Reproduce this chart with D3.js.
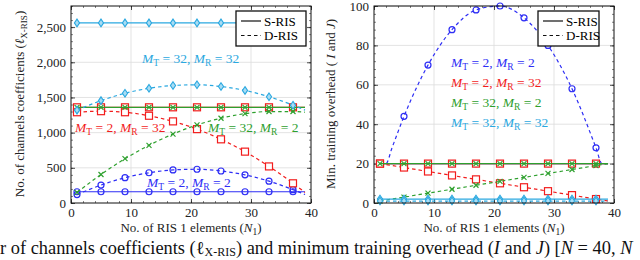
<!DOCTYPE html>
<html>
<head>
<meta charset="utf-8">
<script src="https://cdn.jsdelivr.net/npm/d3@7"></script>
<style>
  body { margin: 0; background: #fff; }
  svg { display: block; font-family: "Liberation Serif", "DejaVu Serif", serif; }
</style>
</head>
<body>
<svg id="fig" width="640" height="260"></svg>
<script>
// N1 samples (markers on every one except the last)
const n1 = [1, 5, 9, 13, 17, 21, 25, 29, 33, 37, 39];
const n1Marks = [1, 5, 9, 13, 17, 21, 25, 29, 33, 37];
const n1Ticks = [0, 10, 20, 30, 40];

// left panel: number of channel coefficients
const coefTicks = [0, 500, 1000, 1500, 2000, 2500];
const coefBlueS = 160, coefRedS = 1360, coefGreenS = 1360, coefCyanS = 2560;
const coefBlueD = [120, 255, 360, 430, 470, 480, 455, 400, 310, 190, 120];
const coefRedD = [1290, 1305, 1290, 1240, 1160, 1050, 905, 730, 520, 280, 150];
const coefGreenD = [150, 405, 630, 820, 980, 1110, 1205, 1270, 1300, 1300, 1290];
const coefCyanD = [1320, 1455, 1560, 1630, 1670, 1680, 1655, 1600, 1510, 1390, 1320];

// right panel: minimum training overhead
const trainTicks = [0, 20, 40, 60, 80, 100];
const trainBlueS = 20, trainRedS = 20, trainGreenS = 20, trainCyanS = 2;
const n1Blue = [1, 2, 3, 5, 9, 13, 17, 21, 25, 29, 33, 37, 38, 39];
const trainBlueD = [20, 20, 28, 44, 70, 88, 98, 100, 94, 80, 58, 28, 20, 20];
const trainRedD = [20, 18, 16, 14, 12, 10, 8, 6, 4, 2, 1];
const trainGreenD = [1, 3, 5, 7, 9, 11, 13, 15, 17, 19, 20];
const trainCyanD = [1, 1, 1, 1, 1, 1, 1, 1, 1, 1, 1];

const legendLabels = ["S-RIS", "D-RIS"];
const caption = "r of channels coefficients (ℓ";

const blue = "#2e2ef5", red = "#f21d1d", green = "#2ea02e", cyan = "#2aa8e0";

const svg = d3.select("#fig");
const plotTop = 6, plotBottom = 203;

const zip = (xs, ys) => xs.map((x, i) => ({ x, y: ys[i] }));
const flat = (xs, v) => xs.map(x => ({ x, y: v }));

function mathLabel(g, x, y, color, mt, mr) {
  const t = g.append("text").attr("x", x).attr("y", y)
    .attr("fill", color).attr("font-size", 13.5);
  t.append("tspan").attr("font-style", "italic").text("M");
  t.append("tspan").attr("font-size", 9.5).attr("dy", 3).text("T");
  t.append("tspan").attr("dy", -3).text(` = ${mt}, `);
  t.append("tspan").attr("font-style", "italic").text("M");
  t.append("tspan").attr("font-size", 9.5).attr("dy", 3).text("R");
  t.append("tspan").attr("dy", -3).text(` = ${mr}`);
}

function drawMark(g, type, color, cx, cy) {
  if (type === "circle") {
    g.append("circle").attr("cx", cx).attr("cy", cy).attr("r", 3)
      .attr("fill", "none").attr("stroke", color).attr("stroke-width", 1.2);
  } else if (type === "square") {
    g.append("rect").attr("x", cx - 3.5).attr("y", cy - 3.5).attr("width", 7).attr("height", 7)
      .attr("fill", "#fff").attr("stroke", color).attr("stroke-width", 1.2);
  } else if (type === "cross") {
    g.append("path").attr("d", `M${cx - 2.5},${cy - 2.5}L${cx + 2.5},${cy + 2.5}M${cx - 2.5},${cy + 2.5}L${cx + 2.5},${cy - 2.5}`)
      .attr("stroke", color).attr("stroke-width", 1.2);
  } else {
    g.append("path").attr("d", `M${cx},${cy - 3.8}L${cx + 2.6},${cy}L${cx},${cy + 3.8}L${cx - 2.6},${cy}Z`)
      .attr("fill", "#a9dcf3").attr("stroke", color).attr("stroke-width", 1.1);
  }
}

function panel(cfg) {
  const x = d3.scaleLinear().domain([0, 40]).range(cfg.xr);
  const y = d3.scaleLinear().domain(cfg.yd).range([plotBottom, plotTop]);
  const g = svg.append("g");
  const [x0, x1] = cfg.xr;

  // grid
  g.append("g").selectAll("line").data(n1Ticks.slice(1, -1)).join("line")
    .attr("x1", d => x(d)).attr("x2", d => x(d)).attr("y1", plotBottom).attr("y2", plotTop)
    .attr("stroke", "#dcdcdc").attr("stroke-width", 0.8);
  g.append("g").selectAll("line").data(cfg.yTicks.filter(d => d > 0)).join("line")
    .attr("x1", x0).attr("x2", x1).attr("y1", d => y(d)).attr("y2", d => y(d))
    .attr("stroke", "#dcdcdc").attr("stroke-width", 0.8);

  // minor and major ticks on all four sides
  const xMinor = d3.range(0, 40.01, 2), yMinor = d3.range(0, cfg.yd[1] + 0.01, cfg.yMinor);
  const axes = [
    [d3.axisBottom(x), plotBottom, 0, n1Ticks, xMinor, true],
    [d3.axisTop(x), plotTop, 0, n1Ticks, xMinor, false],
    [d3.axisLeft(y), 0, x0, cfg.yTicks, yMinor, true],
    [d3.axisRight(y), 0, x1, cfg.yTicks, yMinor, false]
  ];
  axes.forEach(([ax, ty, tx, major, minor, lab]) => {
    g.append("g").attr("transform", `translate(${tx},${ty})`)
      .call(ax.tickValues(minor).tickSize(-2).tickFormat(""))
      .call(s => s.select(".domain").remove())
      .selectAll("line").attr("stroke", "#333").attr("stroke-width", 0.6);
    const a = g.append("g").attr("transform", `translate(${tx},${ty})`)
      .call(ax.tickValues(major).tickSize(-4).tickPadding(lab ? 5 : 0)
        .tickFormat(lab ? d3.format(",") : ""))
      .call(s => s.select(".domain").remove());
    a.selectAll("line").attr("stroke", "#222").attr("stroke-width", 0.8);
    a.selectAll("text").attr("font-size", 13).attr("fill", "#222")
      .attr("font-family", "Liberation Serif, serif");
  });

  // series
  const line = d3.line().x(d => x(d.x)).y(d => y(d.y)).curve(d3.curveMonotoneX);
  cfg.series.forEach(s => {
    g.append("path").datum(flat(n1, s.sv)).attr("d", line)
      .attr("fill", "none").attr("stroke", s.color).attr("stroke-width", 1.2);
    n1Marks.forEach(v => drawMark(g, s.mark, s.color, x(v), y(s.sv)));
    const dd = zip(s.dx, s.dy);
    g.append("path").datum(dd).attr("d", line)
      .attr("fill", "none").attr("stroke", s.color).attr("stroke-width", 1.2)
      .attr("stroke-dasharray", "3.5,3");
    dd.filter(d => n1Marks.includes(d.x)).forEach(d => drawMark(g, s.mark, s.color, x(d.x), y(d.y)));
  });

  // frame
  g.append("rect").attr("x", x0).attr("y", plotTop).attr("width", x1 - x0).attr("height", plotBottom - plotTop)
    .attr("fill", "none").attr("stroke", "#111").attr("stroke-width", 1);

  // legend
  const lg = g.append("g").attr("transform", `translate(${cfg.legX},11)`);
  lg.append("rect").attr("width", cfg.legW).attr("height", 35)
    .attr("fill", "#fff").attr("stroke", "#111").attr("stroke-width", 1.3);
  legendLabels.forEach((t, i) => {
    lg.append("line").attr("x1", 5).attr("x2", 25).attr("y1", 10 + i * 14.5).attr("y2", 10 + i * 14.5)
      .attr("stroke", "#111").attr("stroke-width", 1.2)
      .attr("stroke-dasharray", i ? "3.5,3" : null);
    lg.append("text").attr("x", 28).attr("y", 14.5 + i * 14.5).attr("font-size", 13).text(t);
  });

  cfg.labels.forEach(l => mathLabel(g, l[0], l[1], l[2], l[3], l[4]));

  // axis titles
  const xt = g.append("text").attr("x", (x0 + x1) / 2).attr("y", 232)
    .attr("text-anchor", "middle").attr("font-size", 13).attr("fill", "#222");
  xt.append("tspan").text("No. of RIS 1 elements (");
  xt.append("tspan").attr("font-style", "italic").text("N");
  xt.append("tspan").attr("font-size", 9.5).attr("dy", 3).text("1");
  xt.append("tspan").attr("dy", -3).text(")");

  const yt = g.append("text").attr("transform", `translate(${cfg.yTitleX},104) rotate(-90)`)
    .attr("text-anchor", "middle").attr("font-size", 13).attr("fill", "#222");
  cfg.yTitle(yt);
}

panel({
  xr: [71, 311], yd: [0, 2800], yTicks: coefTicks, yMinor: 100,
  legX: 236, legW: 70, yTitleX: 24,
  series: [
    { color: blue, mark: "circle", sv: coefBlueS, dx: n1, dy: coefBlueD },
    { color: red, mark: "square", sv: coefRedS, dx: n1, dy: coefRedD },
    { color: green, mark: "cross", sv: coefGreenS, dx: n1, dy: coefGreenD },
    { color: cyan, mark: "diamond", sv: coefCyanS, dx: n1, dy: coefCyanD }
  ],
  labels: [
    [142, 63, cyan, 32, 32], [75, 132, red, 2, 32], [208, 132, green, 32, 2], [147, 187, blue, 2, 2]
  ],
  yTitle: t => {
    t.append("tspan").text("No. of channels coefficients (");
    t.append("tspan").attr("font-style", "italic").text("ℓ");
    t.append("tspan").attr("font-size", 9).attr("dy", 3).text("X-RIS");
    t.append("tspan").attr("dy", -3).text(")");
  }
});

panel({
  xr: [374, 614], yd: [0, 100], yTicks: trainTicks, yMinor: 4,
  legX: 538, legW: 61, yTitleX: 335,
  series: [
    { color: blue, mark: "circle", sv: trainBlueS, dx: n1Blue, dy: trainBlueD },
    { color: red, mark: "square", sv: trainRedS, dx: n1, dy: trainRedD },
    { color: green, mark: "cross", sv: trainGreenS, dx: n1, dy: trainGreenD },
    { color: cyan, mark: "diamond", sv: trainCyanS, dx: n1, dy: trainCyanD }
  ],
  labels: [
    [451, 67, blue, 2, 2], [451, 87, red, 2, 32], [451, 107, green, 32, 2], [451, 127, cyan, 32, 32]
  ],
  yTitle: t => {
    t.append("tspan").text("Min. training overhead ( ");
    t.append("tspan").attr("font-style", "italic").text("I");
    t.append("tspan").text(" and ");
    t.append("tspan").attr("font-style", "italic").text("J");
    t.append("tspan").text(")");
  }
});

// caption
const cap = svg.append("text").attr("x", 0).attr("y", 254).attr("font-size", 18.4).attr("fill", "#111");
cap.append("tspan").text(caption);
cap.append("tspan").attr("font-size", 12).attr("dy", 2).text("X-RIS");
cap.append("tspan").attr("dy", -2).text(") and minimum training overhead (");
cap.append("tspan").attr("font-style", "italic").text("I");
cap.append("tspan").text(" and ");
cap.append("tspan").attr("font-style", "italic").text("J");
cap.append("tspan").text(") [");
cap.append("tspan").attr("font-style", "italic").text("N");
cap.append("tspan").text(" = 40, ");
cap.append("tspan").attr("font-style", "italic").text("N");
</script>
</body>
</html>
